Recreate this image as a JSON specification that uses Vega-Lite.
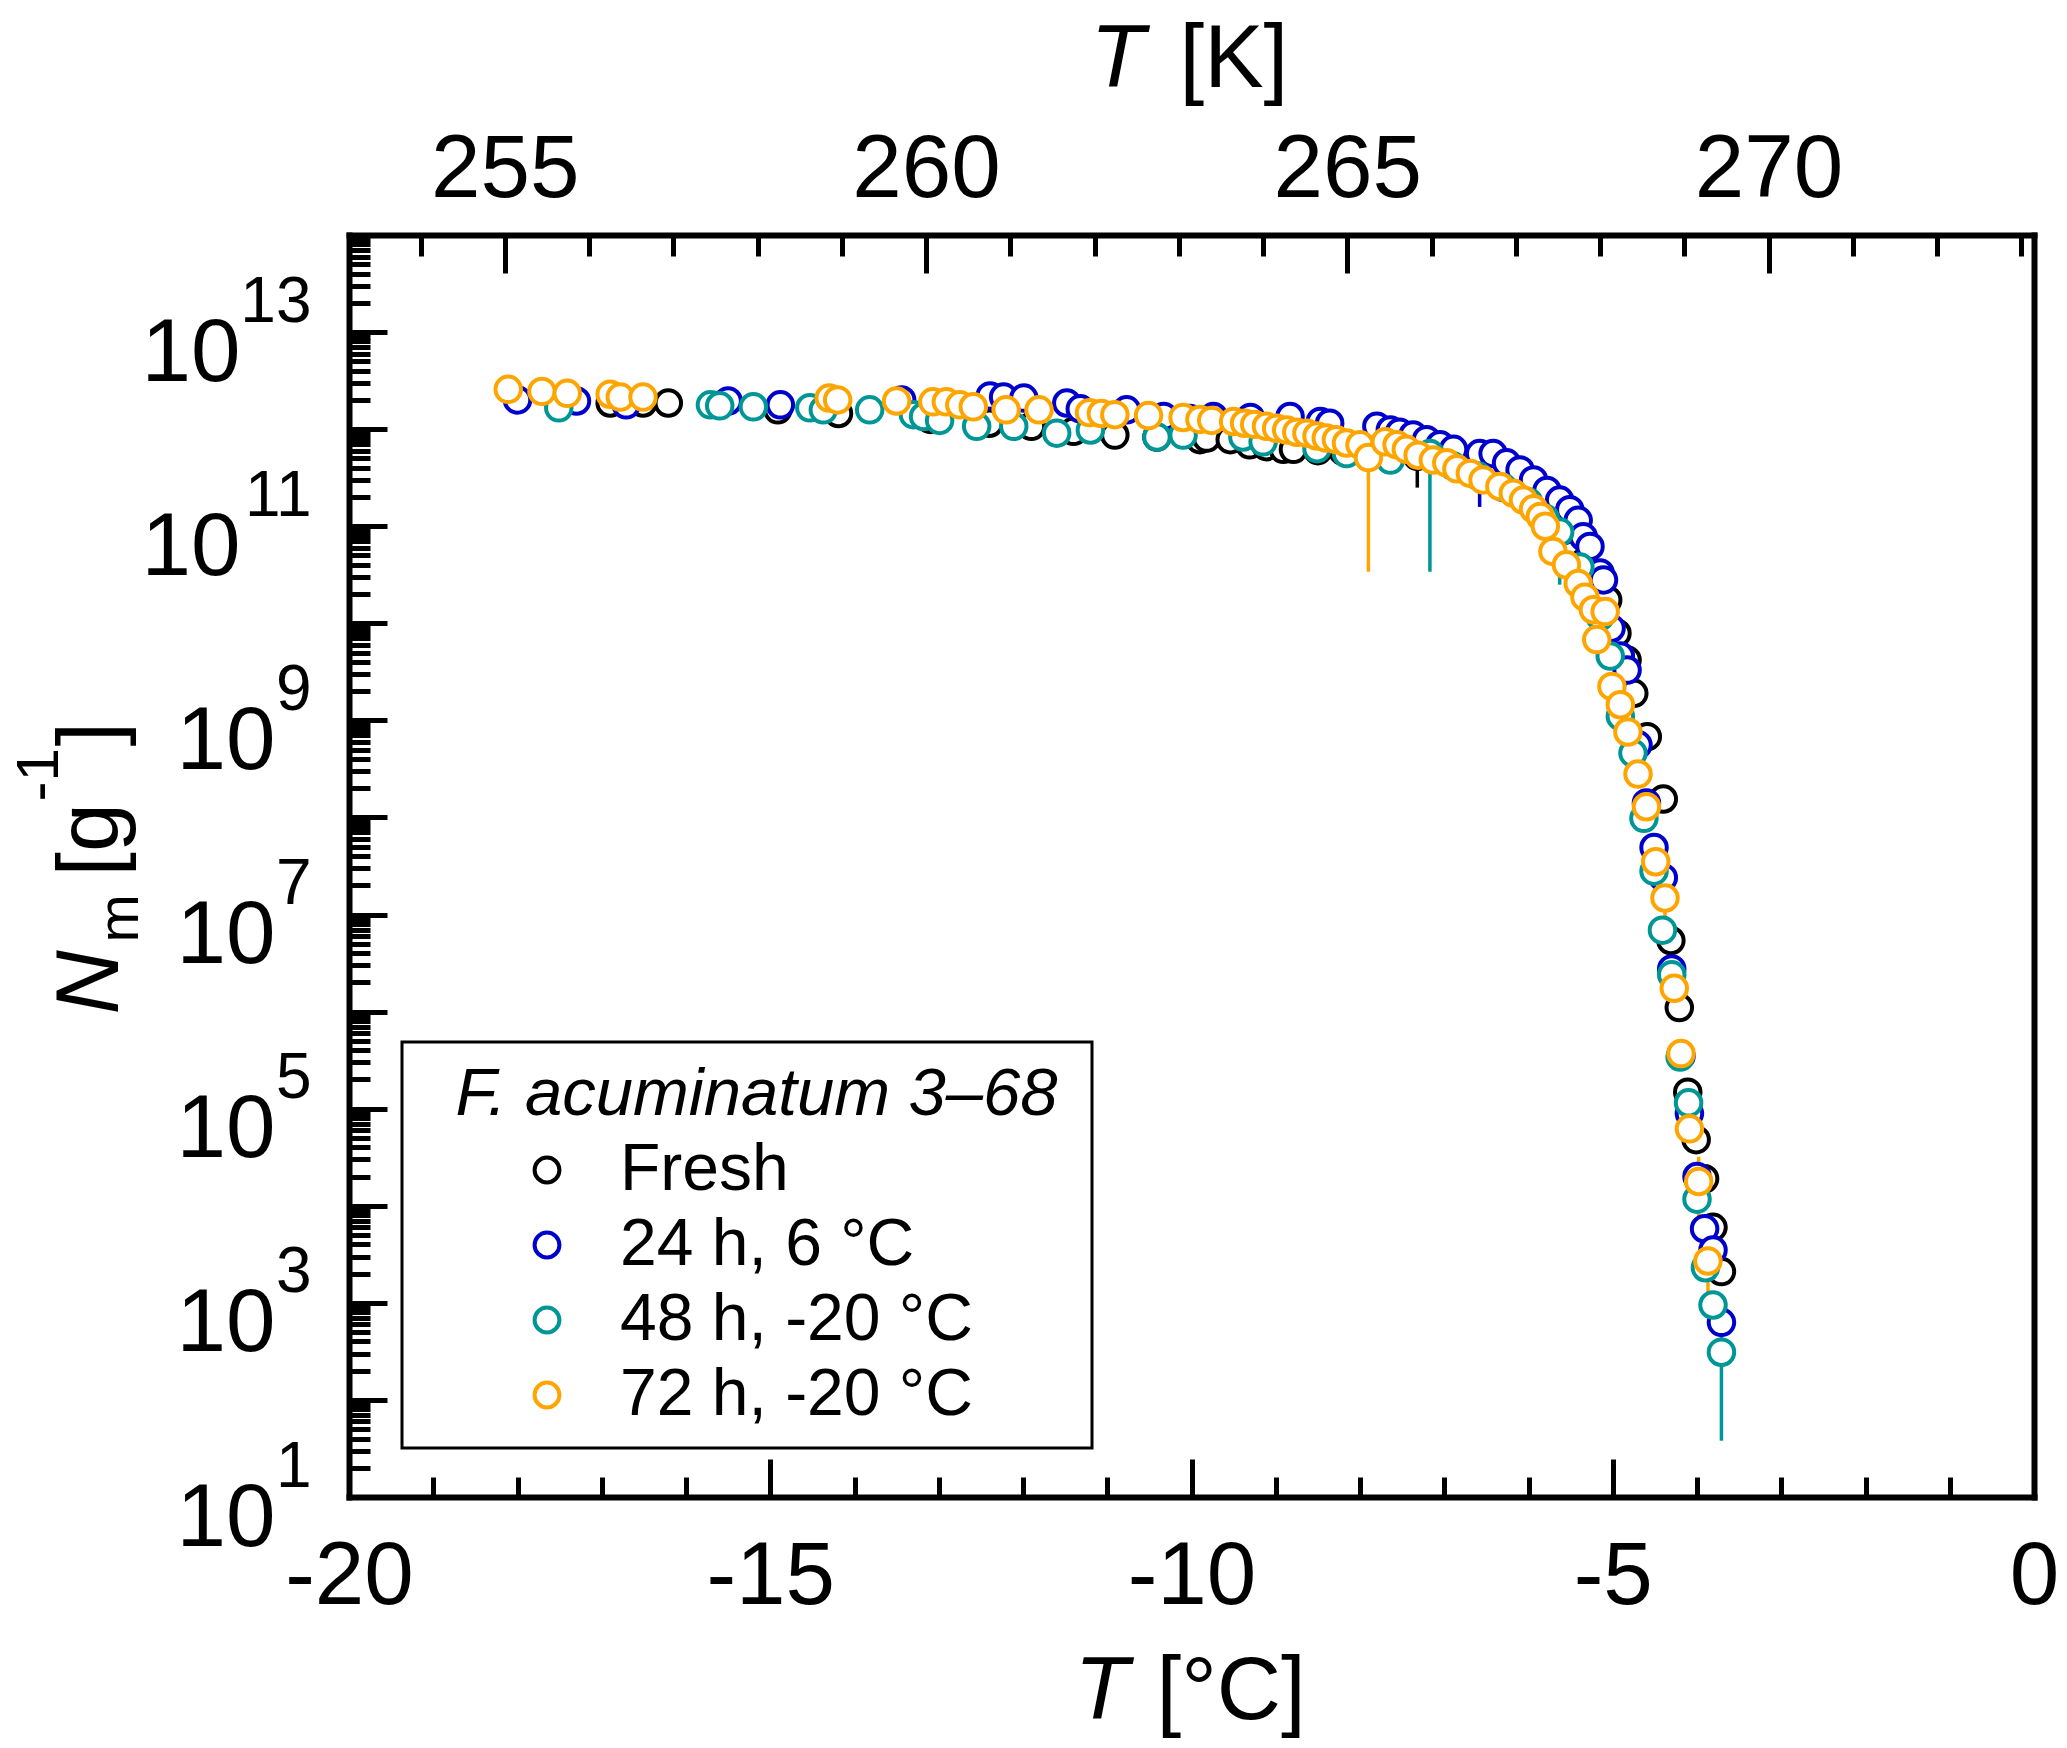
{
  "$schema": "https://vega.github.io/schema/vega-lite/v6.json",
  "description": "Cumulative ice nuclei per mass vs temperature, F. acuminatum 3-68, four storage conditions.",
  "width": 1685,
  "height": 1262,
  "autosize": {"type": "none"},
  "padding": {"left": 349, "top": 235, "right": 33, "bottom": 251},
  "background": "white",
  "config": {
    "font": "Liberation Sans",
    "view": {"stroke": null},
    "axis": {
      "grid": false,
      "labelFlush": false,
      "labelOverlap": false,
      "labelBound": false,
      "labelFont": "Liberation Sans",
      "titleFont": "Liberation Sans",
      "labelColor": "black",
      "titleColor": "black",
      "tickColor": "black",
      "domainColor": "black",
      "labelFontWeight": "normal",
      "titleFontWeight": "normal",
      "domain": false,
      "ticks": false,
      "labels": false,
      "tickWidth": 5,
      "domainWidth": 6,
      "tickCap": "butt",
      "domainCap": "square",
      "titlePadding": 0
    },
    "legend": {"strokeWidth": 3}
  },
  "datasets": {
    "frame": [{"c": -20, "n": 10}, {"c": 0, "n": 1e14}],
    "pts": [
      {"s": "Fresh", "T": -16.90, "N": 1.86e12},
      {"s": "Fresh", "T": -16.51, "N": 1.86e12},
      {"s": "Fresh", "T": -16.21, "N": 1.86e12},
      {"s": "Fresh", "T": -14.91, "N": 1.58e12},
      {"s": "Fresh", "T": -14.19, "N": 1.45e12},
      {"s": "Fresh", "T": -13.10, "N": 1.26e12},
      {"s": "Fresh", "T": -12.40, "N": 1.15e12},
      {"s": "Fresh", "T": -11.90, "N": 1.07e12},
      {"s": "Fresh", "T": -11.40, "N": 9.5e11},
      {"s": "Fresh", "T": -10.91, "N": 8.7e11},
      {"s": "Fresh", "T": -10.41, "N": 8.3e11},
      {"s": "Fresh", "T": -9.90, "N": 7.8e11},
      {"s": "Fresh", "T": -9.82, "N": 8.1e11},
      {"s": "Fresh", "T": -9.54, "N": 7.8e11},
      {"s": "Fresh", "T": -9.31, "N": 6.9e11},
      {"s": "Fresh", "T": -9.11, "N": 6.6e11},
      {"s": "Fresh", "T": -8.91, "N": 6.2e11},
      {"s": "Fresh", "T": -8.79, "N": 6.2e11},
      {"s": "Fresh", "T": -8.50, "N": 6.0e11},
      {"s": "Fresh", "T": -8.20, "N": 5.9e11},
      {"s": "Fresh", "T": -7.90, "N": 5.75e11},
      {"s": "Fresh", "T": -7.60, "N": 5.6e11},
      {"s": "Fresh", "T": -7.32, "N": 5.25e11, "lo": 2.5e11, "hi": 8.9e11},
      {"s": "Fresh", "T": -7.00, "N": 5.0e11},
      {"s": "Fresh", "T": -6.70, "N": 4.2e11},
      {"s": "Fresh", "T": -6.40, "N": 3.3e11},
      {"s": "Fresh", "T": -6.10, "N": 2.4e11},
      {"s": "Fresh", "T": -5.85, "N": 1.58e11},
      {"s": "Fresh", "T": -5.60, "N": 8.9e10},
      {"s": "Fresh", "T": -5.35, "N": 4.2e10},
      {"s": "Fresh", "T": -5.20, "N": 2.6e10},
      {"s": "Fresh", "T": -5.06, "N": 1.74e10},
      {"s": "Fresh", "T": -4.95, "N": 7.9e9},
      {"s": "Fresh", "T": -4.83, "N": 4.2e9},
      {"s": "Fresh", "T": -4.75, "N": 1.9e9},
      {"s": "Fresh", "T": -4.59, "N": 6.8e8},
      {"s": "Fresh", "T": -4.40, "N": 1.55e8},
      {"s": "Fresh", "T": -4.31, "N": 5.4e6},
      {"s": "Fresh", "T": -4.21, "N": 1.1e6},
      {"s": "Fresh", "T": -4.11, "N": 1.48e5},
      {"s": "Fresh", "T": -4.01, "N": 4.8e4},
      {"s": "Fresh", "T": -3.91, "N": 1.9e4},
      {"s": "Fresh", "T": -3.81, "N": 6.0e3},
      {"s": "Fresh", "T": -3.71, "N": 2.1e3},

      {"s": "24 h, 6 °C", "T": -18.00, "N": 2.0e12},
      {"s": "24 h, 6 °C", "T": -17.30, "N": 1.95e12},
      {"s": "24 h, 6 °C", "T": -16.71, "N": 1.78e12},
      {"s": "24 h, 6 °C", "T": -15.50, "N": 1.95e12},
      {"s": "24 h, 6 °C", "T": -14.88, "N": 1.78e12},
      {"s": "24 h, 6 °C", "T": -13.44, "N": 2.0e12},
      {"s": "24 h, 6 °C", "T": -12.39, "N": 2.2e12},
      {"s": "24 h, 6 °C", "T": -12.23, "N": 2.14e12},
      {"s": "24 h, 6 °C", "T": -11.99, "N": 2.09e12},
      {"s": "24 h, 6 °C", "T": -11.48, "N": 1.86e12},
      {"s": "24 h, 6 °C", "T": -11.32, "N": 1.62e12},
      {"s": "24 h, 6 °C", "T": -10.77, "N": 1.58e12},
      {"s": "24 h, 6 °C", "T": -10.33, "N": 1.35e12},
      {"s": "24 h, 6 °C", "T": -10.02, "N": 1.29e12},
      {"s": "24 h, 6 °C", "T": -9.74, "N": 1.35e12},
      {"s": "24 h, 6 °C", "T": -9.30, "N": 1.32e12},
      {"s": "24 h, 6 °C", "T": -8.83, "N": 1.35e12},
      {"s": "24 h, 6 °C", "T": -8.47, "N": 1.2e12},
      {"s": "24 h, 6 °C", "T": -8.36, "N": 1.15e12},
      {"s": "24 h, 6 °C", "T": -7.80, "N": 1.07e12},
      {"s": "24 h, 6 °C", "T": -7.64, "N": 9.8e11},
      {"s": "24 h, 6 °C", "T": -7.53, "N": 9.3e11},
      {"s": "24 h, 6 °C", "T": -7.37, "N": 8.7e11},
      {"s": "24 h, 6 °C", "T": -7.21, "N": 7.8e11},
      {"s": "24 h, 6 °C", "T": -7.05, "N": 6.9e11},
      {"s": "24 h, 6 °C", "T": -6.89, "N": 6.2e11},
      {"s": "24 h, 6 °C", "T": -6.58, "N": 5.6e11, "lo": 1.58e11, "hi": 7.8e11},
      {"s": "24 h, 6 °C", "T": -6.42, "N": 5.6e11, "lo": 3.0e11, "hi": 6.9e11},
      {"s": "24 h, 6 °C", "T": -6.26, "N": 4.5e11},
      {"s": "24 h, 6 °C", "T": -6.10, "N": 3.8e11},
      {"s": "24 h, 6 °C", "T": -5.94, "N": 3.0e11},
      {"s": "24 h, 6 °C", "T": -5.78, "N": 2.34e11},
      {"s": "24 h, 6 °C", "T": -5.63, "N": 1.86e11},
      {"s": "24 h, 6 °C", "T": -5.51, "N": 1.48e11},
      {"s": "24 h, 6 °C", "T": -5.41, "N": 1.15e11},
      {"s": "24 h, 6 °C", "T": -5.35, "N": 7.8e10},
      {"s": "24 h, 6 °C", "T": -5.27, "N": 6.2e10},
      {"s": "24 h, 6 °C", "T": -5.15, "N": 3.3e10},
      {"s": "24 h, 6 °C", "T": -5.11, "N": 2.8e10},
      {"s": "24 h, 6 °C", "T": -5.02, "N": 8.9e9},
      {"s": "24 h, 6 °C", "T": -4.91, "N": 4.6e9},
      {"s": "24 h, 6 °C", "T": -4.83, "N": 3.3e9},
      {"s": "24 h, 6 °C", "T": -4.70, "N": 5.6e8},
      {"s": "24 h, 6 °C", "T": -4.60, "N": 1.41e8},
      {"s": "24 h, 6 °C", "T": -4.51, "N": 4.9e7},
      {"s": "24 h, 6 °C", "T": -4.40, "N": 2.4e7},
      {"s": "24 h, 6 °C", "T": -4.30, "N": 2.75e6},
      {"s": "24 h, 6 °C", "T": -4.19, "N": 3.5e5},
      {"s": "24 h, 6 °C", "T": -4.09, "N": 8.9e4},
      {"s": "24 h, 6 °C", "T": -4.00, "N": 2.0e4},
      {"s": "24 h, 6 °C", "T": -3.91, "N": 5.8e3},
      {"s": "24 h, 6 °C", "T": -3.81, "N": 3.5e3},
      {"s": "24 h, 6 °C", "T": -3.71, "N": 630},

      {"s": "48 h, -20 °C", "T": -17.51, "N": 1.66e12},
      {"s": "48 h, -20 °C", "T": -15.71, "N": 1.78e12},
      {"s": "48 h, -20 °C", "T": -15.60, "N": 1.74e12},
      {"s": "48 h, -20 °C", "T": -15.20, "N": 1.7e12},
      {"s": "48 h, -20 °C", "T": -14.53, "N": 1.66e12},
      {"s": "48 h, -20 °C", "T": -14.37, "N": 1.58e12},
      {"s": "48 h, -20 °C", "T": -13.82, "N": 1.58e12},
      {"s": "48 h, -20 °C", "T": -13.30, "N": 1.41e12},
      {"s": "48 h, -20 °C", "T": -13.18, "N": 1.35e12},
      {"s": "48 h, -20 °C", "T": -12.99, "N": 1.23e12},
      {"s": "48 h, -20 °C", "T": -12.55, "N": 1.07e12},
      {"s": "48 h, -20 °C", "T": -12.11, "N": 1.07e12},
      {"s": "48 h, -20 °C", "T": -11.60, "N": 9.1e11},
      {"s": "48 h, -20 °C", "T": -11.20, "N": 9.8e11},
      {"s": "48 h, -20 °C", "T": -10.41, "N": 8.3e11},
      {"s": "48 h, -20 °C", "T": -10.10, "N": 8.7e11},
      {"s": "48 h, -20 °C", "T": -9.39, "N": 8.3e11},
      {"s": "48 h, -20 °C", "T": -9.15, "N": 7.4e11},
      {"s": "48 h, -20 °C", "T": -8.51, "N": 6.3e11},
      {"s": "48 h, -20 °C", "T": -8.16, "N": 5.6e11},
      {"s": "48 h, -20 °C", "T": -7.64, "N": 4.8e11},
      {"s": "48 h, -20 °C", "T": -7.17, "N": 5.6e11, "lo": 3.4e10, "hi": 1.0e12},
      {"s": "48 h, -20 °C", "T": -6.90, "N": 4.2e11},
      {"s": "48 h, -20 °C", "T": -6.60, "N": 3.3e11},
      {"s": "48 h, -20 °C", "T": -6.30, "N": 2.5e11},
      {"s": "48 h, -20 °C", "T": -6.00, "N": 1.78e11},
      {"s": "48 h, -20 °C", "T": -5.80, "N": 1.2e11},
      {"s": "48 h, -20 °C", "T": -5.63, "N": 8.7e10, "lo": 2.5e10, "hi": 1.1e11},
      {"s": "48 h, -20 °C", "T": -5.39, "N": 3.8e10},
      {"s": "48 h, -20 °C", "T": -5.15, "N": 1.17e10},
      {"s": "48 h, -20 °C", "T": -5.03, "N": 4.6e9},
      {"s": "48 h, -20 °C", "T": -4.91, "N": 1.1e9},
      {"s": "48 h, -20 °C", "T": -4.76, "N": 4.6e8},
      {"s": "48 h, -20 °C", "T": -4.63, "N": 9.8e7},
      {"s": "48 h, -20 °C", "T": -4.51, "N": 2.8e7},
      {"s": "48 h, -20 °C", "T": -4.41, "N": 6.9e6},
      {"s": "48 h, -20 °C", "T": -4.30, "N": 2.4e6},
      {"s": "48 h, -20 °C", "T": -4.20, "N": 3.4e5},
      {"s": "48 h, -20 °C", "T": -4.10, "N": 1.15e5},
      {"s": "48 h, -20 °C", "T": -4.00, "N": 1.17e4},
      {"s": "48 h, -20 °C", "T": -3.90, "N": 2.3e3},
      {"s": "48 h, -20 °C", "T": -3.81, "N": 950},
      {"s": "48 h, -20 °C", "T": -3.71, "N": 310, "lo": 38, "hi": 630},

      {"s": "72 h, -20 °C", "T": -18.11, "N": 2.57e12},
      {"s": "72 h, -20 °C", "T": -17.71, "N": 2.45e12},
      {"s": "72 h, -20 °C", "T": -17.41, "N": 2.34e12},
      {"s": "72 h, -20 °C", "T": -16.90, "N": 2.29e12},
      {"s": "72 h, -20 °C", "T": -16.78, "N": 2.14e12},
      {"s": "72 h, -20 °C", "T": -16.51, "N": 2.14e12},
      {"s": "72 h, -20 °C", "T": -14.30, "N": 2.09e12},
      {"s": "72 h, -20 °C", "T": -14.20, "N": 2.0e12},
      {"s": "72 h, -20 °C", "T": -13.50, "N": 1.95e12},
      {"s": "72 h, -20 °C", "T": -13.07, "N": 1.91e12},
      {"s": "72 h, -20 °C", "T": -12.91, "N": 1.91e12},
      {"s": "72 h, -20 °C", "T": -12.75, "N": 1.78e12},
      {"s": "72 h, -20 °C", "T": -12.59, "N": 1.7e12},
      {"s": "72 h, -20 °C", "T": -12.20, "N": 1.58e12},
      {"s": "72 h, -20 °C", "T": -11.81, "N": 1.58e12},
      {"s": "72 h, -20 °C", "T": -11.21, "N": 1.48e12},
      {"s": "72 h, -20 °C", "T": -11.07, "N": 1.45e12},
      {"s": "72 h, -20 °C", "T": -10.91, "N": 1.41e12},
      {"s": "72 h, -20 °C", "T": -10.51, "N": 1.38e12},
      {"s": "72 h, -20 °C", "T": -10.10, "N": 1.32e12},
      {"s": "72 h, -20 °C", "T": -9.90, "N": 1.26e12},
      {"s": "72 h, -20 °C", "T": -9.76, "N": 1.23e12},
      {"s": "72 h, -20 °C", "T": -9.50, "N": 1.2e12},
      {"s": "72 h, -20 °C", "T": -9.37, "N": 1.15e12},
      {"s": "72 h, -20 °C", "T": -9.25, "N": 1.12e12},
      {"s": "72 h, -20 °C", "T": -9.11, "N": 1.07e12},
      {"s": "72 h, -20 °C", "T": -8.99, "N": 1.02e12},
      {"s": "72 h, -20 °C", "T": -8.87, "N": 9.8e11},
      {"s": "72 h, -20 °C", "T": -8.75, "N": 9.3e11},
      {"s": "72 h, -20 °C", "T": -8.63, "N": 9.1e11},
      {"s": "72 h, -20 °C", "T": -8.51, "N": 8.5e11},
      {"s": "72 h, -20 °C", "T": -8.40, "N": 8.1e11},
      {"s": "72 h, -20 °C", "T": -8.28, "N": 7.8e11},
      {"s": "72 h, -20 °C", "T": -8.16, "N": 7.2e11},
      {"s": "72 h, -20 °C", "T": -8.00, "N": 6.9e11},
      {"s": "72 h, -20 °C", "T": -7.90, "N": 5.1e11, "lo": 3.4e10, "hi": 7.1e11},
      {"s": "72 h, -20 °C", "T": -7.70, "N": 7.4e11},
      {"s": "72 h, -20 °C", "T": -7.56, "N": 6.9e11},
      {"s": "72 h, -20 °C", "T": -7.45, "N": 6.2e11},
      {"s": "72 h, -20 °C", "T": -7.31, "N": 5.4e11},
      {"s": "72 h, -20 °C", "T": -7.13, "N": 4.8e11},
      {"s": "72 h, -20 °C", "T": -6.97, "N": 4.5e11},
      {"s": "72 h, -20 °C", "T": -6.85, "N": 3.9e11},
      {"s": "72 h, -20 °C", "T": -6.69, "N": 3.5e11},
      {"s": "72 h, -20 °C", "T": -6.54, "N": 3.0e11},
      {"s": "72 h, -20 °C", "T": -6.34, "N": 2.57e11},
      {"s": "72 h, -20 °C", "T": -6.18, "N": 2.19e11},
      {"s": "72 h, -20 °C", "T": -6.06, "N": 1.86e11},
      {"s": "72 h, -20 °C", "T": -5.94, "N": 1.51e11},
      {"s": "72 h, -20 °C", "T": -5.86, "N": 1.26e11},
      {"s": "72 h, -20 °C", "T": -5.80, "N": 1.0e11},
      {"s": "72 h, -20 °C", "T": -5.71, "N": 5.5e10},
      {"s": "72 h, -20 °C", "T": -5.55, "N": 4.0e10},
      {"s": "72 h, -20 °C", "T": -5.41, "N": 2.57e10},
      {"s": "72 h, -20 °C", "T": -5.33, "N": 1.86e10},
      {"s": "72 h, -20 °C", "T": -5.23, "N": 1.38e10},
      {"s": "72 h, -20 °C", "T": -5.19, "N": 6.8e9},
      {"s": "72 h, -20 °C", "T": -5.09, "N": 1.32e10},
      {"s": "72 h, -20 °C", "T": -5.01, "N": 2.24e9},
      {"s": "72 h, -20 °C", "T": -4.91, "N": 1.45e9},
      {"s": "72 h, -20 °C", "T": -4.82, "N": 7.6e8},
      {"s": "72 h, -20 °C", "T": -4.70, "N": 2.8e8},
      {"s": "72 h, -20 °C", "T": -4.60, "N": 1.29e8, "lo": 7.9e7, "hi": 1.8e8},
      {"s": "72 h, -20 °C", "T": -4.49, "N": 3.5e7},
      {"s": "72 h, -20 °C", "T": -4.38, "N": 1.48e7, "lo": 4.2e6, "hi": 2.0e7},
      {"s": "72 h, -20 °C", "T": -4.27, "N": 1.74e6},
      {"s": "72 h, -20 °C", "T": -4.19, "N": 3.7e5},
      {"s": "72 h, -20 °C", "T": -4.09, "N": 6.2e4},
      {"s": "72 h, -20 °C", "T": -3.98, "N": 1.78e4, "lo": 6.0e3, "hi": 3.2e4},
      {"s": "72 h, -20 °C", "T": -3.87, "N": 2.7e3, "lo": 1.07e3, "hi": 4.0e3}
    ]
  },
  "resolve": {"axis": {"x": "independent", "y": "independent"}},
  "layer": [
    {
      "data": {"name": "pts"},
      "transform": [{"filter": "isValid(datum.lo)"}],
      "mark": {"type": "rule", "strokeWidth": 3.5},
      "encoding": {
        "x": {"field": "T", "type": "quantitative", "scale": {"domain": [-20, 0], "nice": false, "zero": false}, "axis": null},
        "y": {"field": "lo", "type": "quantitative", "scale": {"type": "log", "domain": [10, 1e14], "nice": false}, "axis": null},
        "y2": {"field": "hi"},
        "color": {
          "field": "s", "type": "nominal",
          "scale": {"domain": ["Fresh", "24 h, 6 °C", "48 h, -20 °C", "72 h, -20 °C"], "range": ["#000000", "#0000CC", "#009696", "#FFA500"]},
          "legend": {
            "orient": "none", "legendX": 53, "legendY": 807,
            "title": "\u200b\u2002F. acuminatum 3–68\u2009\u200b",
            "titleFont": "Liberation Sans", "titleFontSize": 67, "titleFontStyle": "italic", "titleFontWeight": "normal", "titleColor": "black", "titleLimit": 2000, "titlePadding": 8,
            "labelFont": "Liberation Sans", "labelFontSize": 66, "labelColor": "black", "labelLimit": 2000, "labelOffset": 40,
            "symbolType": "circle", "symbolSize": 616, "symbolStrokeWidth": 4, "symbolFillColor": "white", "symbolOpacity": 1, "symbolOffset": 92,
            "rowPadding": 9, "padding": 20, "strokeColor": "black", "fillColor": "white"
          }
        }
      }
    },
    {
      "data": {"name": "pts"},
      "mark": {"type": "point", "shape": "circle", "filled": false, "fill": "white", "fillOpacity": 1, "opacity": 1, "size": 650, "strokeWidth": 4},
      "encoding": {
        "x": {"field": "T", "type": "quantitative", "scale": {"domain": [-20, 0], "nice": false, "zero": false}, "axis": null},
        "y": {"field": "N", "type": "quantitative", "scale": {"type": "log", "domain": [10, 1e14], "nice": false}, "axis": null},
        "color": {
          "field": "s", "type": "nominal",
          "scale": {"domain": ["Fresh", "24 h, 6 °C", "48 h, -20 °C", "72 h, -20 °C"], "range": ["#000000", "#0000CC", "#009696", "#FFA500"]},
          "legend": {
            "orient": "none", "legendX": 53, "legendY": 807,
            "title": "\u200b\u2002F. acuminatum 3–68\u2009\u200b",
            "titleFont": "Liberation Sans", "titleFontSize": 67, "titleFontStyle": "italic", "titleFontWeight": "normal", "titleColor": "black", "titleLimit": 2000, "titlePadding": 8,
            "labelFont": "Liberation Sans", "labelFontSize": 66, "labelColor": "black", "labelLimit": 2000, "labelOffset": 40,
            "symbolType": "circle", "symbolSize": 616, "symbolStrokeWidth": 4, "symbolFillColor": "white", "symbolOpacity": 1, "symbolOffset": 92,
            "rowPadding": 9, "padding": 20, "strokeColor": "black", "fillColor": "white"
          }
        }
      }
    },
    {
      "data": {"name": "frame"},
      "mark": {"type": "point", "opacity": 0},
      "encoding": {
        "x": {"field": "c", "type": "quantitative", "scale": {"domain": [-20, 0], "nice": false, "zero": false},
          "axis": {"orient": "bottom", "values": [-20, -15, -10, -5, 0], "labels": true, "labelExpr": "'' + datum.value", "domain": true, "ticks": false, "tickSize": 0,
            "labelFontSize": 89, "labelBaseline": "alphabetic", "labelAlign": "center", "labelPadding": 106,
            "title": "T", "titleFontStyle": "italic", "titleFontSize": 89, "titleX": 725, "titleY": 221, "titleAlign": "left", "titleBaseline": "alphabetic", "titleAngle": 0}},
        "y": {"field": "n", "type": "quantitative", "scale": {"type": "log", "domain": [10, 1e14], "nice": false},
          "axis": {"orient": "left", "values": [1e11, 1e13], "labels": true, "labelExpr": "'10'", "domain": true, "ticks": false, "tickSize": 0,
            "labelFontSize": 89, "labelAlign": "right", "labelBaseline": "alphabetic", "labelPadding": 109, "labelOffset": 48,
            "title": "N", "titleFontStyle": "italic", "titleFontSize": 89, "titleX": -232, "titleY": 779, "titleAngle": -90, "titleAlign": "left", "titleBaseline": "alphabetic"}}
      }
    },
    {
      "data": {"name": "frame"},
      "mark": {"type": "point", "opacity": 0},
      "encoding": {
        "x": {"field": "c", "type": "quantitative", "scale": {"domain": [-20, 0], "nice": false, "zero": false},
          "axis": {"orient": "bottom", "values": [-15, -10, -5], "ticks": true, "tickSize": -38,
            "title": "[°C]", "titleFontSize": 89, "titleX": 807, "titleY": 221, "titleAlign": "left", "titleBaseline": "alphabetic", "titleAngle": 0}},
        "y": {"field": "n", "type": "quantitative", "scale": {"type": "log", "domain": [10, 1e14], "nice": false},
          "axis": {"orient": "left", "values": [10, 1000, 100000, 10000000, 1000000000], "labels": true, "labelExpr": "'10'", "ticks": false, "tickSize": 0,
            "labelFontSize": 89, "labelAlign": "right", "labelBaseline": "alphabetic", "labelPadding": 74, "labelOffset": 48,
            "title": "m", "titleFontSize": 58, "titleX": -212, "titleY": 707, "titleAngle": -90, "titleAlign": "left", "titleBaseline": "alphabetic"}}
      }
    },
    {
      "data": {"name": "frame"},
      "mark": {"type": "point", "opacity": 0},
      "encoding": {
        "x": {"field": "c", "type": "quantitative", "scale": {"domain": [-20, 0], "nice": false, "zero": false},
          "axis": {"orient": "bottom", "values": [-19, -18, -17, -16, -14, -13, -12, -11, -9, -8, -7, -6, -4, -3, -2, -1], "ticks": true, "tickSize": -20, "title": null}},
        "y": {"field": "n", "type": "quantitative", "scale": {"type": "log", "domain": [10, 1e14], "nice": false},
          "axis": {"orient": "left", "values": [10, 1000, 100000, 10000000, 1000000000, 1e11, 1e13], "labels": true, "labelExpr": "'' + round(log(datum.value) / LN10)", "ticks": false, "tickSize": 0,
            "labelFontSize": 64, "labelAlign": "right", "labelBaseline": "alphabetic", "labelPadding": 38, "labelOffset": -11,
            "title": "[g", "titleFontSize": 88, "titleX": -232, "titleY": 641, "titleAngle": -90, "titleAlign": "left", "titleBaseline": "alphabetic"}}
      }
    },
    {
      "data": {"name": "frame"},
      "mark": {"type": "point", "opacity": 0},
      "encoding": {
        "x": {"field": "c", "type": "quantitative", "scale": {"domain": [-20, 0], "nice": false, "zero": false},
          "axis": {"orient": "top", "values": [-18.15, -13.15, -8.15, -3.15], "labels": true, "labelExpr": "'' + round(datum.value + 273.15)", "domain": true, "ticks": false, "tickSize": 0,
            "labelFontSize": 89, "labelBaseline": "alphabetic", "labelAlign": "center", "labelPadding": 39,
            "title": "T", "titleFontStyle": "italic", "titleFontSize": 89, "titleX": 741, "titleY": -149, "titleAlign": "left", "titleBaseline": "alphabetic", "titleAngle": 0}},
        "y": {"field": "n", "type": "quantitative", "scale": {"type": "log", "domain": [10, 1e14], "nice": false},
          "axis": {"orient": "left", "values": [100, 1000, 10000, 100000, 1000000, 10000000, 100000000, 1000000000, 1e10, 1e11, 1e12, 1e13], "ticks": true, "tickSize": -38,
            "title": "-1", "titleFontSize": 60, "titleX": -292, "titleY": 566, "titleAngle": -90, "titleAlign": "left", "titleBaseline": "alphabetic"}}
      }
    },
    {
      "data": {"name": "frame"},
      "mark": {"type": "point", "opacity": 0},
      "encoding": {
        "x": {"field": "c", "type": "quantitative", "scale": {"domain": [-20, 0], "nice": false, "zero": false},
          "axis": {"orient": "top", "values": [-18.15, -13.15, -8.15, -3.15], "ticks": true, "tickSize": -38,
            "title": "[K]", "titleFontSize": 89, "titleX": 830, "titleY": -149, "titleAlign": "left", "titleBaseline": "alphabetic", "titleAngle": 0}},
        "y": {"field": "n", "type": "quantitative", "scale": {"type": "log", "domain": [10, 1e14], "nice": false},
          "axis": {"orient": "left", "ticks": true, "tickSize": -21,
            "values": [20, 30, 40, 50, 60, 70, 80, 90,
              200, 300, 400, 500, 600, 700, 800, 900,
              2000, 3000, 4000, 5000, 6000, 7000, 8000, 9000,
              2e4, 3e4, 4e4, 5e4, 6e4, 7e4, 8e4, 9e4,
              2e5, 3e5, 4e5, 5e5, 6e5, 7e5, 8e5, 9e5,
              2e6, 3e6, 4e6, 5e6, 6e6, 7e6, 8e6, 9e6,
              2e7, 3e7, 4e7, 5e7, 6e7, 7e7, 8e7, 9e7,
              2e8, 3e8, 4e8, 5e8, 6e8, 7e8, 8e8, 9e8,
              2e9, 3e9, 4e9, 5e9, 6e9, 7e9, 8e9, 9e9,
              2e10, 3e10, 4e10, 5e10, 6e10, 7e10, 8e10, 9e10,
              2e11, 3e11, 4e11, 5e11, 6e11, 7e11, 8e11, 9e11,
              2e12, 3e12, 4e12, 5e12, 6e12, 7e12, 8e12, 9e12,
              2e13, 3e13, 4e13, 5e13, 6e13, 7e13, 8e13, 9e13],
            "title": "]", "titleFontSize": 88, "titleX": -232, "titleY": 511, "titleAngle": -90, "titleAlign": "left", "titleBaseline": "alphabetic"}}
      }
    },
    {
      "data": {"name": "frame"},
      "mark": {"type": "point", "opacity": 0},
      "encoding": {
        "x": {"field": "c", "type": "quantitative", "scale": {"domain": [-20, 0], "nice": false, "zero": false},
          "axis": {"orient": "top", "values": [-19.15, -17.15, -16.15, -15.15, -14.15, -12.15, -11.15, -10.15, -9.15, -7.15, -6.15, -5.15, -4.15, -2.15, -1.15, -0.15], "ticks": true, "tickSize": -21, "title": null}},
        "y": {"field": "n", "type": "quantitative", "scale": {"type": "log", "domain": [10, 1e14], "nice": false},
          "axis": {"orient": "right", "domain": true, "title": null}}
      }
    }
  ]
}
